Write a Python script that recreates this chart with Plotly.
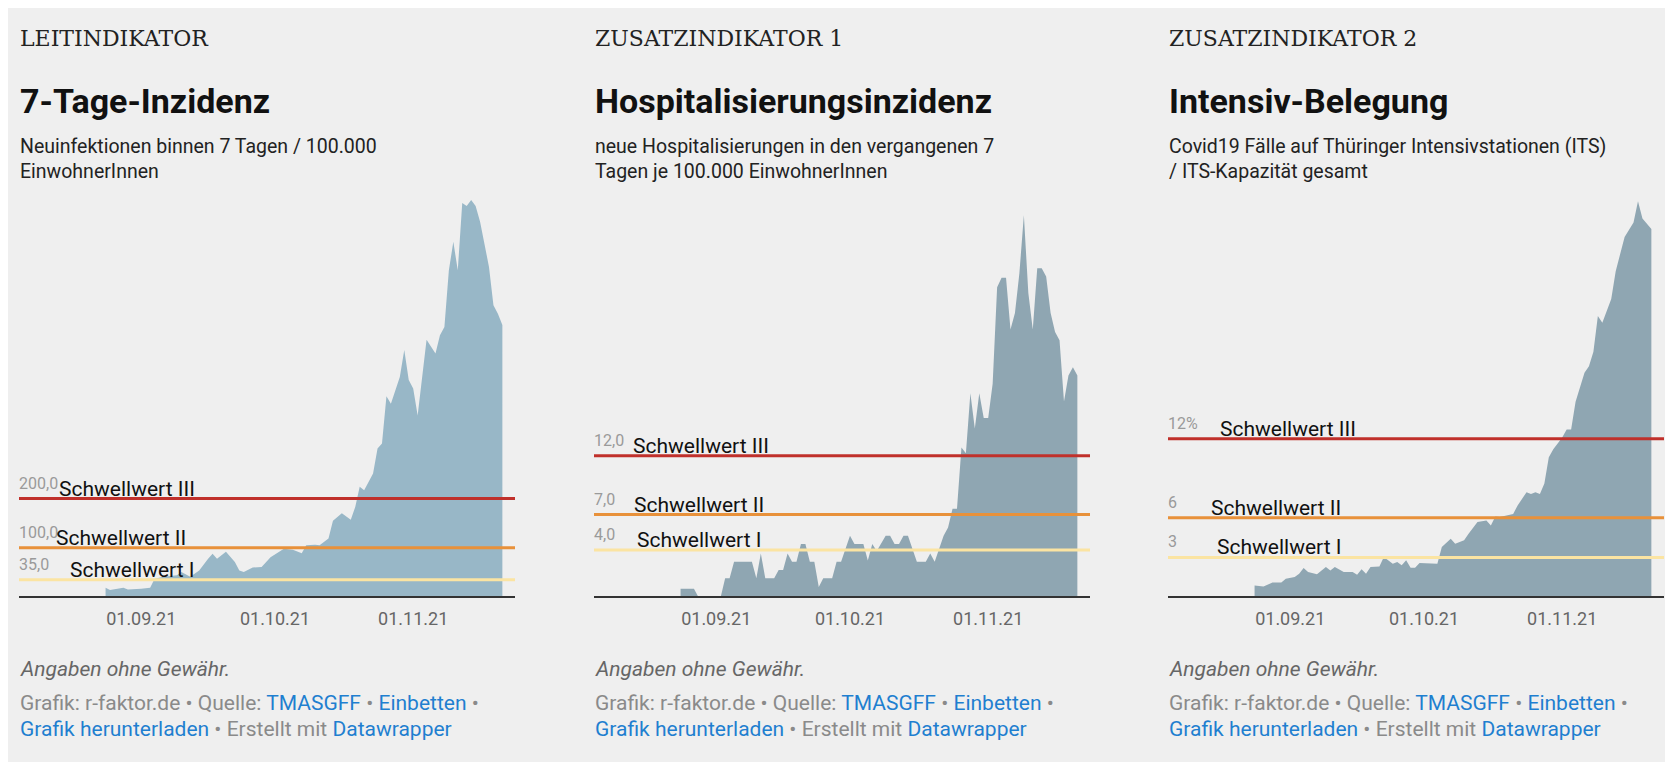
import plotly.graph_objects as go

W, H = 1673, 762

# ---------------- data ----------------
inz_dates = ["2021-08-24","2021-08-25","2021-08-28","2021-08-29","2021-09-01","2021-09-03","2021-09-04","2021-09-06",
             "2021-09-09","2021-09-10","2021-09-12","2021-09-14","2021-09-16","2021-09-17","2021-09-18","2021-09-20",
             "2021-09-22","2021-09-23","2021-09-24","2021-09-26","2021-09-28","2021-09-30","2021-10-03","2021-10-05",
             "2021-10-07","2021-10-08","2021-10-10","2021-10-11","2021-10-13","2021-10-14","2021-10-16","2021-10-18",
             "2021-10-19","2021-10-20","2021-10-21","2021-10-23","2021-10-24","2021-10-25","2021-10-26","2021-10-27",
             "2021-10-29","2021-10-30","2021-10-31","2021-11-01","2021-11-02","2021-11-03","2021-11-04","2021-11-06",
             "2021-11-07","2021-11-08","2021-11-09","2021-11-10","2021-11-11","2021-11-12","2021-11-13","2021-11-14",
             "2021-11-15","2021-11-16","2021-11-18","2021-11-19","2021-11-20","2021-11-21"]
inz_values = [19,14,19,15,17,19,37,41,44,51,41,54,78,88,78,92,71,54,51,60,61,81,98,96,89,105,106,105,119,155,170,157,
              183,224,217,251,302,312,408,393,447,502,441,424,369,441,523,495,532,549,664,722,664,801,795,807,795,763,
              671,593,576,553]

hosp_dates = ["2021-08-24","2021-08-27","2021-08-28","2021-09-02","2021-09-03","2021-09-04","2021-09-05","2021-09-09",
              "2021-09-10","2021-09-11","2021-09-12","2021-09-14","2021-09-15","2021-09-16","2021-09-17","2021-09-18",
              "2021-09-19","2021-09-20","2021-09-21","2021-09-22","2021-09-23","2021-09-24","2021-09-25","2021-09-27",
              "2021-09-28","2021-09-29","2021-10-01","2021-10-02","2021-10-04","2021-10-05","2021-10-06","2021-10-07",
              "2021-10-09","2021-10-10","2021-10-11","2021-10-12","2021-10-13","2021-10-14","2021-10-16","2021-10-18",
              "2021-10-19","2021-10-20","2021-10-22","2021-10-23","2021-10-24","2021-10-25","2021-10-26","2021-10-27",
              "2021-10-28","2021-10-29","2021-10-30","2021-10-31","2021-11-01","2021-11-02","2021-11-03","2021-11-04",
              "2021-11-05","2021-11-06","2021-11-07","2021-11-08","2021-11-09","2021-11-10","2021-11-11","2021-11-12",
              "2021-11-13","2021-11-14","2021-11-15","2021-11-16","2021-11-17","2021-11-18","2021-11-19","2021-11-20",
              "2021-11-21"]
hosp_values = [0.7,0.7,0,0,1.6,1.6,3.0,3.0,1.6,3.7,1.6,1.6,2.3,2.3,3.7,3.0,3.0,4.5,4.5,3.0,3.0,0.85,1.6,1.6,3.0,3.0,
               5.2,4.5,4.5,3.1,4.5,3.9,5.2,5.2,4.5,4.5,5.2,5.2,3.0,3.0,3.7,3.0,5.2,5.9,7.5,7.5,12.7,12.2,17.3,14.3,
               17.3,15.2,15.2,18.1,26.3,27.1,27.1,22.7,24.1,27.5,32.4,25.8,22.7,27.9,27.9,27.2,24.1,22.5,21.8,16.6,
               18.8,19.5,18.8]

its_dates = ["2021-08-24","2021-08-26","2021-08-28","2021-08-30","2021-08-31","2021-09-02","2021-09-03","2021-09-04",
             "2021-09-05","2021-09-07","2021-09-09","2021-09-10","2021-09-11","2021-09-13","2021-09-15","2021-09-16",
             "2021-09-17","2021-09-18","2021-09-19","2021-09-21","2021-09-22","2021-09-24","2021-09-25","2021-09-26",
             "2021-09-27","2021-09-28","2021-09-29","2021-09-30","2021-10-04","2021-10-05","2021-10-07","2021-10-08",
             "2021-10-10","2021-10-11","2021-10-13","2021-10-15","2021-10-16","2021-10-17","2021-10-18","2021-10-21",
             "2021-10-22","2021-10-24","2021-10-25","2021-10-26","2021-10-27","2021-10-28","2021-10-29","2021-10-30",
             "2021-11-01","2021-11-02","2021-11-03","2021-11-04","2021-11-06","2021-11-07","2021-11-08","2021-11-09",
             "2021-11-10","2021-11-12","2021-11-13","2021-11-15","2021-11-17","2021-11-18","2021-11-19","2021-11-21"]
its_values = [0.88,0.8,1.09,1.09,1.39,1.52,1.77,2.2,1.9,1.72,2.27,2.0,2.27,1.9,1.9,1.69,2.1,1.77,2.27,2.32,3.03,2.53,
              2.65,2.4,2.78,2.22,2.22,2.58,2.53,3.8,4.42,4.04,4.3,4.8,5.68,5.8,5.43,6.1,6.06,6.3,6.94,7.95,7.8,7.95,
              7.8,8.6,10.6,11.2,12.1,12.7,12.7,14.8,17.0,17.5,18.6,21.3,20.8,22.6,24.7,27.3,28.4,30.0,28.7,27.9]

thr_inz = [35, 100, 200]
thr_hosp = [4, 7, 12]
thr_its = [3, 6, 12]
thr_inz_labels = ["35,0", "100,0", "200,0"]
thr_hosp_labels = ["4,0", "7,0", "12,0"]
thr_its_labels = ["3", "6", "12%"]
thr_names = ["Schwellwert I", "Schwellwert II", "Schwellwert III"]

kickers = ["LEITINDIKATOR", "ZUSATZINDIKATOR 1", "ZUSATZINDIKATOR 2"]
titles = ["7-Tage-Inzidenz", "Hospitalisierungsinzidenz", "Intensiv-Belegung"]
subtitles = [["Neuinfektionen binnen 7 Tagen / 100.000", "EinwohnerInnen"],
             ["neue Hospitalisierungen in den vergangenen 7", "Tagen je 100.000 EinwohnerInnen"],
             ["Covid19 Fälle auf Thüringer Intensivstationen (ITS)", "/ ITS-Kapazität gesamt"]]
tick_vals = ["2021-09-01", "2021-10-01", "2021-11-01"]
tick_text = ["01.09.21", "01.10.21", "01.11.21"]

# ---------------- layout ----------------
OFF = 8
panel_x = [19 - OFF, 594 - OFF, 1168 - OFF]
plot_w = 496
top_px, bot_px = 200 - OFF, 597 - OFF
y_max = [807, 33.7, 30.1]
fills = ["#98b7c7", "#8fa6b2", "#8fa6b2"]
thr_colors = ["#fbe4a2", "#e8913a", "#c0302b"]
name_offsets = [[49, 35, 38], [41, 38, 37], [47, 41, 50]]  # px from panel left (I, II, III)

series = [(inz_dates, inz_values, thr_inz, thr_inz_labels),
          (hosp_dates, hosp_values, thr_hosp, thr_hosp_labels),
          (its_dates, its_values, thr_its, thr_its_labels)]

fig = go.Figure()
ann = []
shapes = []
px = lambda v: v / W
py = lambda v: 1 - (v - OFF) / H
FONT = "Roboto"

for i, (d, v, thr, thr_lab) in enumerate(series):
    sfx = "" if i == 0 else str(i + 1)
    fig.add_trace(go.Scatter(x=d, y=v, mode="lines", line=dict(width=0, color=fills[i]),
                             fill="tozeroy", fillcolor=fills[i], hoverinfo="skip",
                             xaxis="x" + sfx, yaxis="y" + sfx, showlegend=False))
    x0 = panel_x[i]
    fig.layout["xaxis" + sfx] = dict(domain=[px(x0), px(x0 + plot_w)],
                                     range=["2021-08-04 14:00", "2021-11-23 20:00"],
                                     tickvals=tick_vals, ticktext=tick_text, showgrid=False,
                                     zeroline=False, showline=False, ticks="", ticklabelstandoff=9,
                                     tickfont=dict(family=FONT, size=18, color="#666666"),
                                     anchor="y" + sfx, fixedrange=True)
    fig.layout["yaxis" + sfx] = dict(domain=[py(bot_px + OFF), py(top_px + OFF)], range=[0, y_max[i]],
                                     visible=False, anchor="x" + sfx, fixedrange=True)
    yr = "y" + sfx
    for k in range(3):
        shapes.append(dict(type="line", xref="paper", yref=yr, x0=px(x0), x1=px(x0 + plot_w),
                           y0=thr[k], y1=thr[k], line=dict(color=thr_colors[k], width=3)))
        ann.append(dict(xref="paper", yref=yr, x=px(x0 - 2), y=thr[k], text=thr_lab[k], showarrow=False,
                        xanchor="left", yanchor="bottom", yshift=4,
                        font=dict(family=FONT, size=16, color="#9a9a9a")))
        ann.append(dict(xref="paper", yref=yr, x=px(x0 + name_offsets[i][k]), y=thr[k], text=thr_names[k],
                        showarrow=False, xanchor="left", yanchor="bottom", yshift=-4,
                        font=dict(family=FONT, size=21, color="#111111")))
    shapes.append(dict(type="line", xref="paper", yref="paper", x0=px(x0), x1=px(x0 + plot_w),
                       y0=py(bot_px + OFF), y1=py(bot_px + OFF), line=dict(color="#333333", width=2)))
    tx = px(x0 - 1)
    ann.append(dict(xref="paper", yref="paper", x=tx, y=py(39), text=kickers[i], showarrow=False,
                    xanchor="left", yanchor="middle",
                    font=dict(family="DejaVu Serif", size=22, color="#222222")))
    ann.append(dict(xref="paper", yref="paper", x=tx, y=py(101), text="<b>" + titles[i] + "</b>",
                    showarrow=False, xanchor="left", yanchor="middle",
                    font=dict(family=FONT, size=34, color="#111111")))
    for j, line in enumerate(subtitles[i]):
        ann.append(dict(xref="paper", yref="paper", x=tx, y=py(146 + 25 * j), text=line,
                        showarrow=False, xanchor="left", yanchor="middle",
                        font=dict(family=FONT, size=19.5, color="#222222")))
    ann.append(dict(xref="paper", yref="paper", x=tx, y=py(669), text="<i>Angaben ohne Gewähr.</i>",
                    showarrow=False, xanchor="left", yanchor="middle",
                    font=dict(family=FONT, size=21, color="#666666")))
    g, b = "#8a8a8a", "#1f7fd0"
    l1 = (f'<span style="color:{g}">Grafik: r-faktor.de • Quelle: </span><span style="color:{b}">TMASGFF</span>'
          f'<span style="color:{g}"> • </span><span style="color:{b}">Einbetten</span><span style="color:{g}"> •</span>')
    l2 = (f'<span style="color:{b}">Grafik herunterladen</span><span style="color:{g}"> • Erstellt mit </span>'
          f'<span style="color:{b}">Datawrapper</span>')
    for j, t in enumerate([l1, l2]):
        ann.append(dict(xref="paper", yref="paper", x=tx, y=py(703 + 26 * j), text=t,
                        showarrow=False, xanchor="left", yanchor="middle",
                        font=dict(family=FONT, size=21, color=g)))

fig.update_layout(width=W, height=H, margin=dict(l=0, r=0, t=0, b=0),
                  paper_bgcolor="#efefef", plot_bgcolor="#efefef",
                  annotations=ann, shapes=shapes, showlegend=False)
fig.write_html("out.html", config={"displayModeBar": False})
